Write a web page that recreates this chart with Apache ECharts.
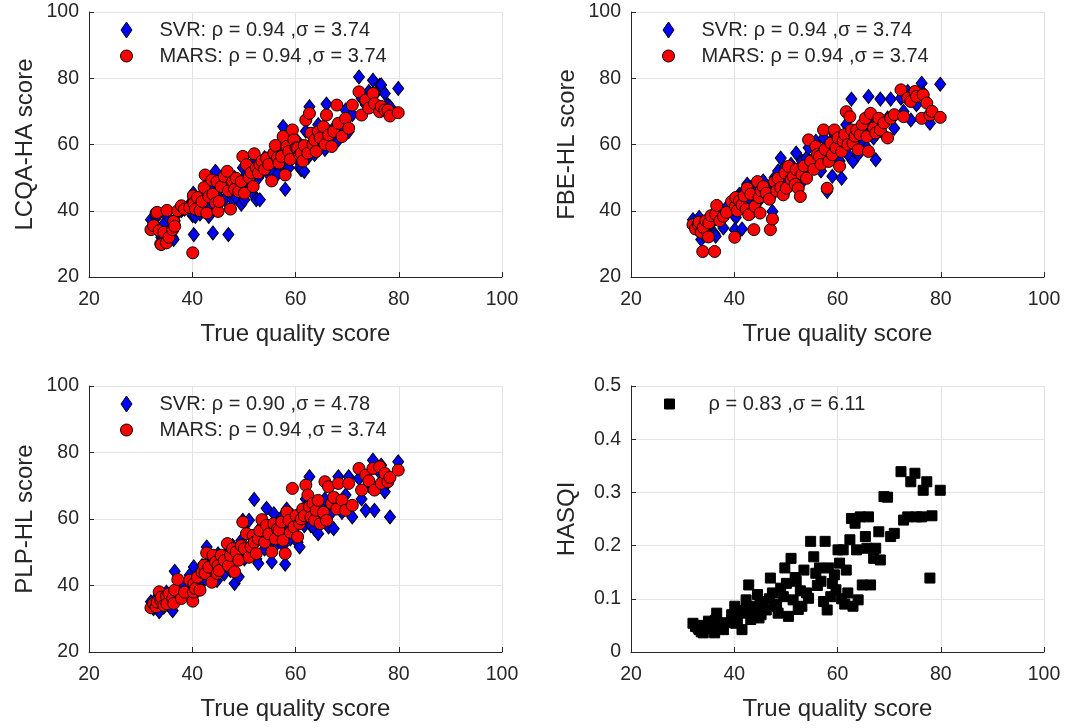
<!DOCTYPE html>
<html>
<head>
<meta charset="utf-8">
<title>Predicted vs true quality score</title>
<script src="https://cdn.jsdelivr.net/npm/echarts@6/dist/echarts.min.js"></script>
<style>
html, body { margin: 0; padding: 0; background: #fff; }
#main { width: 1070px; height: 728px; }
</style>
</head>
<body>
<div id="main"></div>
<script>
// true quality score of each stimulus (shared by all four panels)
var trueScore = [
  32.0, 32.5, 33.0, 33.2, 33.6, 33.9, 34.0, 34.5, 35.0, 35.1,
  35.5, 36.2, 36.4, 36.6, 37.2, 37.9, 38.5, 39.5, 40.1, 40.2,
  40.3, 40.6, 41.0, 41.5, 41.9, 42.3, 42.5, 42.8, 43.2, 43.8,
  44.0, 44.5, 44.8, 45.0, 45.2, 45.6, 46.2, 46.8, 47.0, 47.4,
  47.8, 48.2, 48.5, 49.0, 49.5, 49.8, 50.1, 50.5, 51.0, 51.4,
  51.8, 52.0, 52.4, 52.8, 53.1, 53.5, 54.0, 54.4, 54.8, 55.4,
  55.8, 56.1, 56.5, 56.8, 57.3, 57.6, 58.0, 58.3, 58.7, 59.0,
  59.4, 59.7, 60.1, 60.4, 60.8, 61.1, 61.4, 61.7, 62.0, 62.4,
  62.7, 63.0, 63.4, 63.7, 64.0, 64.4, 64.8, 65.4, 65.7, 66.0,
  66.4, 67.0, 67.4, 68.0, 68.3, 69.0, 69.7, 70.3, 71.0, 72.3,
  72.8, 73.6, 74.2, 75.0, 75.3, 76.3, 76.6, 77.3, 77.9, 78.3,
  79.9
];

var lcqaSvr = [
  37.3, 36.0, 38.0, 35.0, 34.3, 33.0, 32.0, 36.0, 31.8, 38.5,
  33.5, 32.0, 31.3, 37.0, 39.3, 40.0, 40.5, 42.0, 38.5, 45.3,
  32.8, 38.3, 43.0, 39.0, 40.0, 45.0, 44.3, 41.0, 38.3, 47.0,
  33.3, 51.9, 46.0, 42.0, 44.0, 49.0, 43.3, 48.0, 32.8, 45.0,
  43.3, 50.0, 44.0, 47.0, 42.0, 53.0, 43.3, 51.0, 48.0, 54.0,
  45.0, 55.0, 43.3, 50.0, 43.3, 52.0, 56.0, 53.0, 51.0, 52.0,
  56.0, 55.0, 51.0, 58.0, 54.0, 65.4, 46.5, 57.0, 53.0, 60.0,
  62.0, 58.0, 56.0, 61.0, 53.0, 52.4, 58.0, 51.9, 64.0, 56.0,
  71.4, 60.0, 58.0, 57.0, 63.0, 66.0, 61.0, 63.0, 58.5, 72.2,
  64.0, 61.0, 65.0, 62.0, 61.4, 65.0, 70.4, 63.9, 69.0, 80.4,
  74.0, 72.0, 76.0, 79.4, 75.0, 77.9, 78.0, 75.4, 72.0, 71.4,
  76.9
];
var lcqaMars = [
  34.3, 35.5, 39.3, 39.5, 34.0, 30.0, 29.8, 33.5, 30.3, 40.1,
  32.0, 34.3, 36.8, 35.3, 40.0, 41.5, 40.5, 41.0, 27.3, 44.5,
  42.3, 40.5, 44.0, 40.0, 42.8, 47.0, 50.8, 39.3, 44.3, 49.3,
  45.0, 42.3, 48.8, 39.8, 42.8, 47.3, 50.4, 51.9, 46.0, 40.5,
  48.8, 46.5, 49.8, 45.8, 48.8, 56.4, 45.3, 53.9, 50.0, 51.5,
  47.3, 57.2, 53.0, 51.4, 54.0, 55.0, 52.5, 55.9, 54.0, 49.0,
  57.4, 59.7, 56.0, 54.4, 56.4, 62.4, 50.8, 59.4, 57.9, 55.5,
  64.4, 61.4, 59.0, 58.9, 57.0, 57.4, 55.0, 59.7, 67.4, 57.4,
  69.4, 63.4, 60.0, 61.4, 57.9, 63.9, 62.0, 65.4, 60.0, 68.9,
  62.9, 59.4, 63.9, 71.9, 66.4, 62.4, 67.9, 64.9, 71.9, 75.9,
  68.9, 73.4, 71.0, 75.4, 72.4, 69.9, 71.5, 70.4, 70.4, 68.6,
  69.6
];

var fbeSvr = [
  37.3, 35.0, 34.0, 38.0, 31.3, 33.0, 36.0, 35.5, 34.0, 37.5,
  36.0, 33.0, 32.3, 38.0, 40.0, 34.8, 41.0, 40.5, 34.3, 43.0,
  38.0, 42.0, 45.0, 34.5, 46.0, 43.0, 48.0, 42.0, 47.0, 40.0,
  44.0, 46.5, 43.0, 48.0, 45.0, 49.0, 46.0, 47.0, 44.0, 39.8,
  50.0, 47.0, 52.0, 55.9, 47.0, 53.0, 49.0, 51.0, 54.0, 48.0,
  52.0, 57.4, 50.0, 48.0, 55.0, 51.0, 56.0, 59.0, 53.0, 56.0,
  61.0, 54.0, 58.0, 52.0, 62.0, 56.0, 45.8, 57.0, 61.0, 50.4,
  63.0, 58.0, 60.0, 55.0, 49.8, 59.0, 62.0, 66.0, 57.0, 64.0,
  73.7, 54.9, 60.0, 62.0, 57.0, 65.0, 61.0, 64.0, 59.0, 74.5,
  66.0, 62.0, 55.4, 66.0, 73.7, 63.0, 68.0, 73.7, 64.9, 74.0,
  70.0, 76.0, 67.4, 74.0, 72.0, 78.5, 75.5, 73.0, 66.4, 70.0,
  78.2
];
var fbeMars = [
  35.8, 34.5, 36.0, 36.6, 33.5, 27.7, 35.0, 37.0, 32.1, 36.3,
  38.5, 27.7, 39.0, 41.6, 37.0, 38.3, 39.5, 42.8, 32.0, 41.3,
  44.0, 40.0, 43.0, 41.8, 44.5, 40.5, 46.8, 38.8, 45.0, 34.3,
  41.3, 48.8, 44.0, 39.3, 46.0, 47.3, 45.3, 43.5, 34.3, 37.5,
  48.8, 46.0, 49.8, 47.0, 44.8, 51.4, 46.8, 53.4, 49.5, 50.4,
  48.0, 52.5, 46.8, 44.3, 51.0, 53.5, 49.8, 61.4, 55.0, 52.5,
  59.4, 57.0, 56.4, 54.0, 64.4, 58.5, 46.8, 54.9, 60.4, 56.9,
  64.4, 59.0, 62.0, 53.4, 57.9, 61.0, 63.0, 69.9, 60.0, 68.4,
  64.4, 60.4, 62.5, 64.4, 58.4, 63.0, 66.0, 67.9, 62.4, 57.9,
  69.4, 65.0, 63.5, 67.9, 64.4, 66.5, 62.0, 67.9, 69.0, 76.5,
  68.4, 74.0, 73.0, 76.0, 74.5, 67.9, 75.0, 72.5, 68.9, 70.0,
  68.2
];

var plpSvr = [
  35.1, 33.0, 36.0, 34.5, 32.1, 37.0, 35.0, 33.5, 38.0, 36.0,
  34.0, 32.4, 36.5, 44.3, 38.5, 37.0, 40.0, 43.1, 38.0, 41.0,
  45.6, 37.5, 43.0, 40.0, 46.0, 44.0, 42.0, 51.6, 47.0, 42.0,
  48.0, 45.0, 41.5, 49.5, 44.0, 47.0, 43.5, 50.0, 47.0, 44.5,
  52.0, 40.6, 49.0, 42.6, 53.5, 59.6, 48.0, 56.0, 59.6, 50.0,
  53.0, 65.9, 48.0, 46.6, 55.0, 58.0, 51.0, 63.2, 54.0, 47.1,
  61.6, 52.0, 58.5, 55.0, 60.5, 52.0, 46.4, 63.0, 57.0, 54.0,
  61.0, 56.0, 59.0, 53.0, 51.6, 62.0, 60.0, 58.0, 66.0, 64.5,
  72.7, 58.0, 62.0, 57.0, 61.0, 55.6, 60.0, 63.0, 66.0, 59.0,
  57.6, 62.0, 57.1, 66.0, 72.7, 62.0, 67.2, 72.7, 60.6, 72.2,
  66.0, 62.6, 70.0, 77.7, 62.6, 74.0, 76.2, 68.2, 71.0, 60.6,
  77.2
];
var plpMars = [
  33.3, 34.5, 33.6, 35.0, 38.1, 35.6, 36.5, 34.0, 36.8, 34.5,
  37.5, 36.1, 34.6, 38.6, 41.8, 36.1, 38.0, 41.6, 35.3, 38.0,
  40.5, 39.1, 42.5, 38.6, 44.0, 46.1, 43.6, 49.8, 45.5, 41.0,
  49.1, 47.0, 43.6, 46.0, 44.5, 49.1, 47.5, 52.6, 46.0, 49.0,
  51.1, 44.1, 50.1, 47.6, 52.0, 59.1, 51.1, 55.6, 48.5, 51.6,
  55.1, 53.0, 49.6, 54.0, 56.5, 59.8, 53.0, 58.1, 55.5, 50.1,
  58.6, 54.0, 57.0, 56.6, 59.1, 53.6, 49.6, 62.1, 59.6, 56.0,
  69.2, 57.6, 61.0, 54.6, 58.6, 60.0, 63.0, 61.0, 70.2, 67.2,
  63.7, 60.5, 64.7, 59.6, 62.6, 65.6, 58.6, 62.0, 71.2, 59.6,
  69.7, 64.7, 66.5, 63.0, 70.7, 65.7, 62.6, 70.7, 64.1, 75.2,
  68.7, 73.2, 71.5, 75.2, 68.7, 75.7, 70.7, 73.7, 71.2, 72.5,
  74.7
];

var hasqi = [
  0.054, 0.048, 0.045, 0.042, 0.038, 0.050, 0.036, 0.044, 0.058, 0.052,
  0.048, 0.036, 0.060, 0.073, 0.045, 0.042, 0.055, 0.070, 0.086, 0.067,
  0.054, 0.060, 0.078, 0.042, 0.073, 0.098, 0.082, 0.126, 0.061, 0.086,
  0.075, 0.108, 0.064, 0.095, 0.070, 0.088, 0.079, 0.100, 0.139, 0.111,
  0.090, 0.086, 0.073, 0.120, 0.104, 0.158, 0.129, 0.067, 0.176, 0.098,
  0.140, 0.133, 0.080, 0.115, 0.086, 0.154, 0.111, 0.101, 0.208, 0.179,
  0.148, 0.125, 0.158, 0.133, 0.095, 0.208, 0.079, 0.158, 0.104, 0.129,
  0.145, 0.117, 0.192, 0.167, 0.100, 0.192, 0.090, 0.154, 0.111, 0.211,
  0.251, 0.086, 0.242, 0.192, 0.098, 0.254, 0.126, 0.217, 0.195, 0.254,
  0.126, 0.176, 0.195, 0.226, 0.173, 0.292, 0.291, 0.217, 0.223, 0.339,
  0.248, 0.254, 0.320, 0.336, 0.254, 0.254, 0.304, 0.320, 0.139, 0.256,
  0.304
];

var yNames = ['LCQA-HA score', 'FBE-HL score', 'PLP-HL score', 'HASQI'];
var xName = 'True quality score';
var svrLabels = ['SVR: ρ = 0.94 ,σ = 3.74', 'SVR: ρ = 0.94 ,σ = 3.74', 'SVR: ρ = 0.90 ,σ = 4.78'];
var marsLabel = 'MARS: ρ = 0.94 ,σ = 3.74';
var hasqiLabel = 'ρ = 0.83 ,σ = 6.11';
var scoreTicks = { min: 20, max: 100, interval: 20 };
var hasqiTicks = { min: 0, max: 0.5, interval: 0.1 };

var FONT = '"Liberation Sans", Arial, Helvetica, sans-serif';
var INK = '#262626';

function pairs(ys) {
  return trueScore.map(function (x, i) { return [x, ys[i]]; });
}

var chart = echarts.init(document.getElementById('main'));

var grids = [
  { left: 89, top: 12, width: 413, height: 265 },
  { left: 631, top: 12, width: 413, height: 265 },
  { left: 89, top: 386, width: 413, height: 266 },
  { left: 631, top: 386, width: 413, height: 266 }
];
grids.forEach(function (g) { g.outerBoundsMode = 'none'; });

function xAxisFor(i) {
  return {
    type: 'value', gridIndex: i,
    min: scoreTicks.min, max: scoreTicks.max, interval: scoreTicks.interval,
    name: xName, nameLocation: 'middle', nameGap: 45,
    nameTextStyle: { fontSize: 24, color: INK, fontFamily: FONT },
    axisLine: { show: true, onZero: false, lineStyle: { color: INK, width: 1 } },
    axisTick: { show: true, inside: true, length: 5, lineStyle: { color: INK } },
    axisLabel: { fontSize: 19.5, color: INK, fontFamily: FONT, margin: 13 },
    splitLine: { show: true, lineStyle: { color: '#e3e3e3', width: 1 } }
  };
}
function yAxisFor(i, ticks) {
  return {
    type: 'value', gridIndex: i,
    min: ticks.min, max: ticks.max, interval: ticks.interval,
    name: yNames[i], nameLocation: 'middle', nameGap: 52, nameRotate: 90,
    nameTextStyle: { fontSize: 24, color: INK, fontFamily: FONT },
    axisLine: { show: true, onZero: false, lineStyle: { color: INK, width: 1 } },
    axisTick: { show: true, inside: true, length: 5, lineStyle: { color: INK } },
    axisLabel: { fontSize: 19.5, color: INK, fontFamily: FONT, margin: 10 },
    splitLine: { show: true, lineStyle: { color: '#e3e3e3', width: 1 } }
  };
}

// legend icons sit in a 16x16 box; the extra move-to corners keep the box size
var diamondIcon = 'path://M0,-8L5.5,0L0,8L-5.5,0Z';
var circleIcon = 'path://M-8,-8M8,8M6,0A6,6,0,1,1,-6,0A6,6,0,1,1,6,0Z';
var squareIcon = 'path://M-8,-8M8,8M-5,-5L5,-5L5,5L-5,5Z';

function svrSeries(i, ys) {
  return {
    type: 'scatter', name: svrLabels[i], xAxisIndex: i, yAxisIndex: i,
    symbol: 'diamond', symbolSize: [11, 14],
    itemStyle: { color: '#0000ff', borderColor: '#000', borderWidth: 1, opacity: 1 },
    data: pairs(ys)
  };
}
function marsSeries(i, ys) {
  return {
    type: 'scatter', name: marsLabel, xAxisIndex: i, yAxisIndex: i,
    symbol: 'circle', symbolSize: 12,
    itemStyle: { color: '#ff0000', borderColor: '#000', borderWidth: 1, opacity: 1 },
    data: pairs(ys)
  };
}

function legendFor(left, top, names, textGap) {
  return {
    left: left, top: top, orient: 'vertical', padding: 0,
    itemWidth: 16, itemHeight: 16, itemGap: 6,
    selectedMode: false,
    itemStyle: { borderColor: '#000', borderWidth: 1, opacity: 1 },
    textStyle: { fontSize: 20, color: INK, fontFamily: FONT, padding: [0, 0, 0, textGap] },
    data: names
  };
}

var option = {
  backgroundColor: '#fff',
  animation: false,
  grid: grids,
  xAxis: [xAxisFor(0), xAxisFor(1), xAxisFor(2), xAxisFor(3)],
  yAxis: [yAxisFor(0, scoreTicks), yAxisFor(1, scoreTicks), yAxisFor(2, scoreTicks), yAxisFor(3, hasqiTicks)],
  legend: [
    legendFor(118, 20, [{ name: svrLabels[0], icon: diamondIcon }, { name: marsLabel, icon: circleIcon }], 20),
    legendFor(660, 20, [{ name: svrLabels[1], icon: diamondIcon }, { name: marsLabel, icon: circleIcon }], 20),
    legendFor(118, 394, [{ name: svrLabels[2], icon: diamondIcon }, { name: marsLabel, icon: circleIcon }], 20),
    legendFor(661, 394, [{ name: hasqiLabel, icon: squareIcon }], 26)
  ],
  series: [
    svrSeries(0, lcqaSvr), marsSeries(0, lcqaMars),
    svrSeries(1, fbeSvr), marsSeries(1, fbeMars),
    svrSeries(2, plpSvr), marsSeries(2, plpMars),
    {
      type: 'scatter', name: hasqiLabel, xAxisIndex: 3, yAxisIndex: 3,
      symbol: 'rect', symbolSize: 10,
      itemStyle: { color: '#000', borderColor: '#000', borderWidth: 1, opacity: 1 },
      data: pairs(hasqi)
    }
  ]
};

chart.setOption(option);
</script>
</body>
</html>
